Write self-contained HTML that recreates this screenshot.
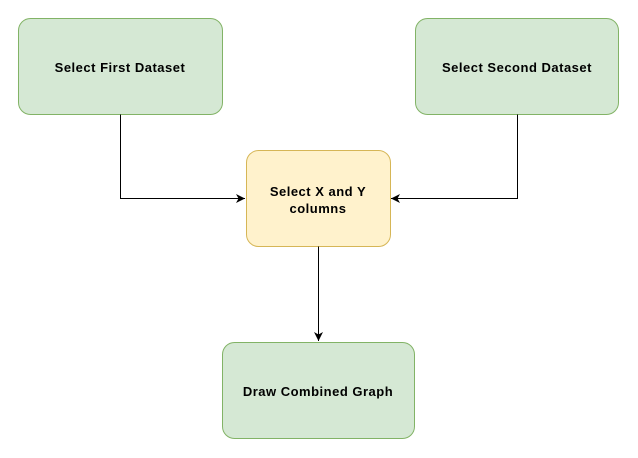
<!DOCTYPE html>
<html><head><meta charset="utf-8"><style>
html,body{margin:0;padding:0;background:#fff;}
</style></head><body>
<svg width="638" height="458" xmlns="http://www.w3.org/2000/svg" style="display:block">
<defs><marker id="a" markerWidth="12" markerHeight="12" refX="10" refY="6" orient="auto" markerUnits="userSpaceOnUse"><path d="M1,1.5 L10,6 L1,10.5 L3.5,6 Z" fill="#000"/></marker></defs>
<rect x="18.5" y="18.5" width="204" height="96" rx="12" fill="#d5e8d4" stroke="#82b366"/>
<rect x="415.5" y="18.5" width="203" height="96" rx="12" fill="#d5e8d4" stroke="#82b366"/>
<rect x="246.5" y="150.5" width="144" height="96" rx="12" fill="#fff2cc" stroke="#d6b656"/>
<rect x="222.5" y="342.5" width="192" height="96" rx="12" fill="#d5e8d4" stroke="#82b366"/>
<g fill="none" stroke="#000" stroke-width="1">
<path d="M120.5,114.5 V198.5 H245" marker-end="url(#a)"/>
<path d="M517.5,114.5 V198.5 H391" marker-end="url(#a)"/>
<path d="M318.5,246.5 V341" marker-end="url(#a)"/>
</g>
<g font-family="Liberation Sans, sans-serif" font-size="13" letter-spacing="0.5" font-weight="bold" text-anchor="middle" fill="#000">
<text x="120" y="72">Select First Dataset</text>
<text x="517" y="72">Select Second Dataset</text>
<text x="318" y="196">Select X and Y</text>
<text x="318" y="213">columns</text>
<text x="318" y="396">Draw Combined Graph</text>
</g>
</svg>
</body></html>
